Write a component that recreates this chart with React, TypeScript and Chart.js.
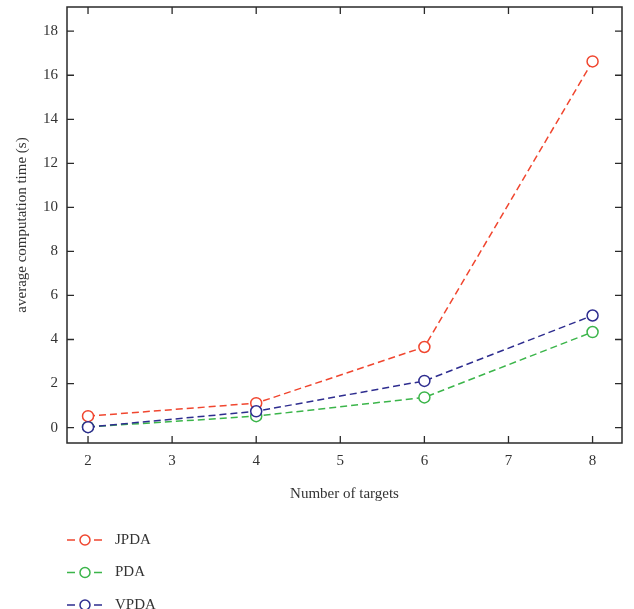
import React, { useEffect, useRef } from "react";
import { Chart, registerables } from "chart.js";

Chart.register(...registerables);

const targets = [2, 4, 6, 8];
const jpda = [0.52, 1.11, 3.66, 16.63];
const pda = [0.03, 0.52, 1.37, 4.34];
const vpda = [0.02, 0.74, 2.12, 5.09];
const xTicks = [2, 3, 4, 5, 6, 7, 8];
const yTicks = [0, 2, 4, 6, 8, 10, 12, 14, 16, 18];

const FONT = "'Liberation Serif', 'Times New Roman', serif";
const TEXT = "#333333";

const seriesNames = ["JPDA", "PDA", "VPDA"];
const seriesColors = ["#f0462f", "#3bb54a", "#2e2d8f"];
const seriesValues = [jpda, pda, vpda];
const seriesOrder = [1, 2, 0];

const framePlugin = {
  id: "frame",
  afterDraw(chart: any) {
    const { ctx, chartArea } = chart;
    const { left, right, top, bottom } = chartArea;
    const xs = chart.scales.x;
    const ys = chart.scales.y;
    ctx.save();
    ctx.strokeStyle = "#2a2a2a";
    ctx.lineWidth = 1.5;
    ctx.setLineDash([]);
    ctx.strokeRect(left, top, right - left, bottom - top);
    ctx.lineWidth = 1.3;
    const tl = 7;
    ctx.beginPath();
    xTicks.forEach((v) => {
      const px = xs.getPixelForValue(v);
      ctx.moveTo(px, bottom);
      ctx.lineTo(px, bottom - tl);
      ctx.moveTo(px, top);
      ctx.lineTo(px, top + tl);
    });
    yTicks.forEach((v) => {
      const py = ys.getPixelForValue(v);
      ctx.moveTo(left, py);
      ctx.lineTo(left + tl, py);
      ctx.moveTo(right, py);
      ctx.lineTo(right - tl, py);
    });
    ctx.stroke();

    // legend
    const legendY = [540, 572.5, 605];
    seriesNames.forEach((name, i) => {
      const y = legendY[i];
      ctx.strokeStyle = seriesColors[i];
      ctx.lineWidth = 1.5;
      ctx.beginPath();
      ctx.moveTo(67, y);
      ctx.lineTo(75, y);
      ctx.moveTo(94, y);
      ctx.lineTo(102, y);
      ctx.stroke();
      ctx.beginPath();
      ctx.arc(85, y, 5, 0, Math.PI * 2);
      ctx.stroke();
      ctx.fillStyle = TEXT;
      ctx.font = `15px ${FONT}`;
      ctx.textBaseline = "middle";
      ctx.textAlign = "left";
      ctx.fillText(name, 115, y);
    });
    ctx.restore();
  },
};

export default function App() {
  const ref = useRef<HTMLCanvasElement>(null);
  useEffect(() => {
    if (!ref.current) return;
    const chart = new Chart(ref.current, {
      type: "line",
      data: {
        datasets: seriesNames.map((name, i) => ({
          label: name,
          order: seriesOrder[i],
          data: targets.map((t, j) => ({ x: t, y: seriesValues[i][j] })),
          borderColor: seriesColors[i],
          backgroundColor: "#ffffff",
          pointBackgroundColor: "#ffffff",
          pointBorderColor: seriesColors[i],
          pointBorderWidth: 1.5,
          pointRadius: 5.5,
          borderWidth: 1.5,
          borderDash: [7, 4],
          fill: false,
          tension: 0,
        })),
      },
      options: {
        animation: false,
        responsive: false,
        devicePixelRatio: 1,
        layout: { padding: { top: 5, right: 12, left: 0, bottom: 0 } },
        plugins: { legend: { display: false }, tooltip: { enabled: false } },
        scales: {
          x: {
            type: "linear",
            min: 1.75,
            max: 8.35,
            grid: { display: false, drawTicks: false },
            border: { display: false },
            ticks: {
              stepSize: 1,
              includeBounds: false,
              padding: 9,
              color: TEXT,
              font: { family: FONT, size: 15 },
            },
            title: {
              display: true,
              text: "Number of targets",
              color: TEXT,
              font: { family: FONT, size: 15 },
              padding: { top: 0, bottom: 106 },
            },
            afterFit: (s: any) => {
              s.height = 166;
              s.paddingLeft = 0;
              s.paddingRight = 0;
            },
          },
          y: {
            type: "linear",
            min: -0.7,
            max: 19.1,
            grid: { display: false, drawTicks: false },
            border: { display: false },
            ticks: {
              stepSize: 2,
              includeBounds: false,
              padding: 9,
              color: TEXT,
              font: { family: FONT, size: 15 },
            },
            title: {
              display: true,
              text: "average computation time (s)",
              color: TEXT,
              font: { family: FONT, size: 15 },
              padding: { top: 13, bottom: 0 },
            },
            afterFit: (s: any) => {
              s.width = 67;
              s.paddingTop = 0;
              s.paddingBottom = 0;
            },
          },
        },
      },
      plugins: [framePlugin],
    });
    return () => chart.destroy();
  }, []);
  return (
    <div style={{ position: "absolute", left: 0, top: 0, width: 634, height: 609 }}>
      <canvas ref={ref} width={634} height={609} style={{ display: "block" }} />
    </div>
  );
}
